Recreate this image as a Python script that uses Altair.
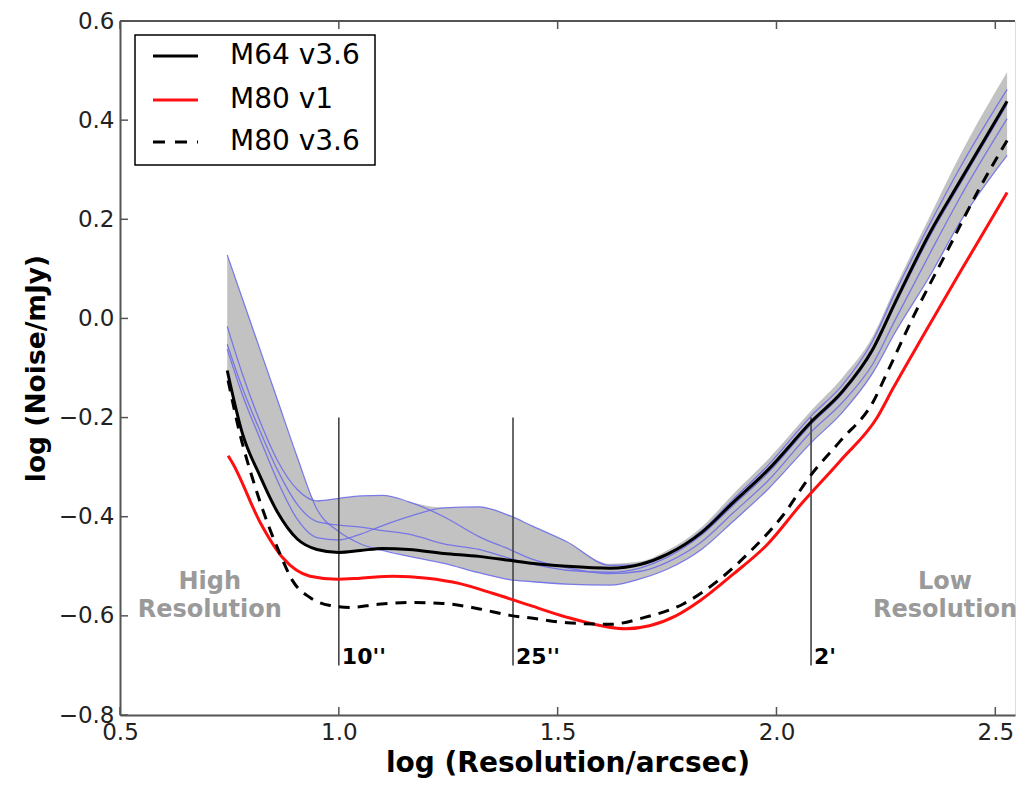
import altair as alt
import pandas as pd

# ---------------- data ----------------
X_TICKS = [0.5, 1.0, 1.5, 2.0, 2.5]
Y_TICKS = [-0.8, -0.6, -0.4, -0.2, 0.0, 0.2, 0.4, 0.6]

SERIES = ["M64 v3.6", "M80 v1", "M80 v3.6"]

# common grid for the spread runs and the band
X_GRID = [0.745, 0.78, 0.82, 0.86, 0.905, 0.95, 1.0, 1.05, 1.10, 1.16, 1.24, 1.32, 1.39, 1.44,
          1.52, 1.62, 1.69, 1.75, 1.83, 1.90, 1.98, 2.08, 2.15, 2.22, 2.27, 2.35, 2.42, 2.527]

M64_V36 = [-0.105, -0.233, -0.318, -0.391, -0.445, -0.466, -0.472, -0.468, -0.464, -0.466, -0.474,
           -0.480, -0.488, -0.494, -0.500, -0.504, -0.496, -0.476, -0.431, -0.372, -0.306, -0.208,
           -0.148, -0.062, 0.030, 0.172, 0.278, 0.438]

BLUE_1 = [0.128, 0.039, -0.063, -0.165, -0.28, -0.385, -0.43, -0.455, -0.468, -0.480, -0.494, -0.513,
          -0.527, -0.531, -0.536, -0.538, -0.525, -0.506, -0.465, -0.41, -0.345, -0.25, -0.19, -0.11,
          -0.03, 0.085, 0.195, 0.329]
BLUE_2 = [-0.016, -0.113, -0.208, -0.287, -0.345, -0.368, -0.363, -0.358, -0.357, -0.370, -0.400,
          -0.440, -0.466, -0.485, -0.503, -0.515, -0.510, -0.492, -0.450, -0.393, -0.328, -0.228,
          -0.17, -0.092, -0.005, 0.13, 0.245, 0.403]
BLUE_3 = [-0.052, -0.141, -0.227, -0.306, -0.375, -0.41, -0.417, -0.421, -0.428, -0.435, -0.455,
          -0.466, -0.484, -0.495, -0.508, -0.512, -0.503, -0.482, -0.436, -0.378, -0.312, -0.213,
          -0.152, -0.066, 0.025, 0.165, 0.272, 0.432]
BLUE_4 = [-0.062, -0.155, -0.243, -0.328, -0.405, -0.442, -0.447, -0.435, -0.418, -0.400, -0.382,
          -0.380, -0.398, -0.418, -0.45, -0.498, -0.497, -0.476, -0.428, -0.366, -0.297, -0.196,
          -0.135, -0.045, 0.05, 0.19, 0.305, 0.462]

BAND_UPPER = [0.128, 0.039, -0.063, -0.165, -0.28, -0.368, -0.363, -0.358, -0.357, -0.370, -0.382,
              -0.380, -0.398, -0.418, -0.45, -0.495, -0.49, -0.468, -0.42, -0.355, -0.285, -0.185,
              -0.12, -0.036, 0.06, 0.205, 0.33, 0.497]
BAND_LOWER = [-0.105, -0.233, -0.318, -0.391, -0.445, -0.466, -0.472, -0.468, -0.468, -0.480, -0.494,
              -0.513, -0.527, -0.531, -0.536, -0.538, -0.525, -0.506, -0.465, -0.41, -0.345, -0.25,
              -0.19, -0.11, -0.03, 0.085, 0.195, 0.329]

RED_X = [0.747, 0.758, 0.820, 0.873, 0.934, 0.996, 1.049, 1.124, 1.202, 1.277, 1.353, 1.437, 1.522,
         1.600, 1.655, 1.710, 1.770, 1.826, 1.901, 1.979, 2.054, 2.146, 2.230, 2.267, 2.335, 2.420, 2.527]
M80_V1 = [-0.277, -0.293, -0.411, -0.484, -0.520, -0.526, -0.524, -0.520, -0.524, -0.535, -0.555,
          -0.579, -0.603, -0.620, -0.626, -0.620, -0.600, -0.569, -0.516, -0.456, -0.377, -0.287,
          -0.200, -0.140, -0.035, 0.094, 0.254]

DASH_X = [0.747, 0.774, 0.804, 0.836, 0.866, 0.895, 0.934, 0.980, 1.026, 1.087, 1.163, 1.238, 1.316,
          1.391, 1.444, 1.522, 1.620, 1.695, 1.787, 1.865, 1.940, 2.015, 2.077, 2.146, 2.221, 2.253,
          2.313, 2.390, 2.466, 2.527]
M80_V36 = [-0.125, -0.233, -0.326, -0.41, -0.476, -0.530, -0.563, -0.579, -0.583, -0.577, -0.573,
           -0.575, -0.585, -0.599, -0.605, -0.614, -0.617, -0.604, -0.576, -0.530, -0.470, -0.397,
           -0.318, -0.247, -0.168, -0.109, 0.004, 0.136, 0.266, 0.359]

MARK_X = [1.0, 1.398, 2.079]
MARK_TOP = [-0.2, -0.2, -0.2]
MARK_BOTTOM = [-0.7, -0.7, -0.7]
MARK_LABELS = ["10''", "25''", "2'"]
MARK_LABEL_Y = [-0.684, -0.684, -0.684]

REGION_X = [0.705, 0.705, 2.385, 2.385]
REGION_Y = [-0.545, -0.603, -0.545, -0.603]
REGION_TEXT = ["High", "Resolution", "Low", "Resolution"]

# ---------------- layout ----------------
W, H = 895, 694
FONT = "DejaVu Sans"
FRAME = "#555555"

xs = alt.Scale(domain=[0.5, 2.545], nice=False, zero=False)
ys = alt.Scale(domain=[-0.8, 0.6], nice=False, zero=False)

AX = alt.Axis(
    values=X_TICKS, format=".1f", title="log (Resolution/arcsec)",
    titleFontSize=28, titleFontWeight="bold", titleColor="black", titleFont=FONT,
    labelFontSize=23, labelFont=FONT, labelColor="#222", labelPadding=6,
    titlePadding=5, ticks=False, tickSize=0, grid=False,
    domainColor=FRAME, domainWidth=2, labelFlush=False, labelOverlap=False)
AY = alt.Axis(
    values=Y_TICKS, format=".1f", title="log (Noise/mJy)",
    titleFontSize=26.5, titleFontWeight="bold", titleColor="black", titleFont=FONT,
    labelFontSize=23, labelFont=FONT, labelColor="#222", labelPadding=6,
    titlePadding=8, ticks=False, tickSize=0, grid=False,
    domainColor=FRAME, domainWidth=2, labelFlush=False, labelOverlap=False)


def X(field):
    return alt.X(field, scale=xs, axis=AX, title="log (Resolution/arcsec)")


def Y(field):
    return alt.Y(field, scale=ys, axis=AY, title="log (Noise/mJy)")


band_df = pd.DataFrame({"x": X_GRID, "lo": BAND_LOWER, "hi": BAND_UPPER})
band = alt.Chart(band_df).mark_area(color="#c2c2c2", interpolate="monotone").encode(
    x=X("x:Q"), y=Y("lo:Q"), y2="hi:Q",
)

runs = []
for i, vals in enumerate([BLUE_1, BLUE_2, BLUE_3, BLUE_4]):
    for xv, yv in zip(X_GRID, vals):
        runs.append({"x": xv, "y": yv, "run": f"r{i}"})
runs_df = pd.DataFrame(runs)
blue = alt.Chart(runs_df).mark_line(color="#6f6fe8", strokeWidth=1.3, opacity=0.9,
                                    interpolate="monotone").encode(
    x=X("x:Q"), y=Y("y:Q"), detail="run:N",
)

mk_df = pd.DataFrame({"x": MARK_X, "y": MARK_TOP, "y2": MARK_BOTTOM,
                      "label": MARK_LABELS, "ly": MARK_LABEL_Y})
vlines = alt.Chart(mk_df).mark_rule(color="#444444", strokeWidth=1.6).encode(
    x=X("x:Q"), y=Y("y:Q"), y2="y2:Q",
)
vlabels = alt.Chart(mk_df).mark_text(align="left", baseline="middle", dx=3, font=FONT,
                                     fontSize=22, fontWeight="bold", color="black").encode(
    x=X("x:Q"), y=Y("ly:Q"), text="label:N",
)

reg_df = pd.DataFrame({"x": REGION_X, "y": REGION_Y, "t": REGION_TEXT})
regions = alt.Chart(reg_df).mark_text(align="center", baseline="alphabetic", font=FONT,
                                      fontSize=24, fontWeight="bold", color="#9a9a9a").encode(
    x=X("x:Q"), y=Y("y:Q"), text="t:N",
)


def series_line(xv, yv, color, dash=None):
    df = pd.DataFrame({"x": xv, "y": yv})
    kw = dict(color=color, strokeWidth=3, interpolate="monotone")
    if dash:
        kw["strokeDash"] = dash
    return alt.Chart(df).mark_line(**kw).encode(x=X("x:Q"), y=Y("y:Q"))


black = series_line(X_GRID, M64_V36, "black")
red = series_line(RED_X, M80_V1, "#ff1010")
dashed = series_line(DASH_X, M80_V36, "black", [11, 8])

one = pd.DataFrame({"a": [0]})

# frame top line and inward ticks
top_line = alt.Chart(one).mark_rule(color=FRAME, strokeWidth=2).encode(
    x=alt.value(0), x2=alt.value(W), y=alt.value(0))
xt_df = pd.DataFrame({"x": X_TICKS})
yt_df = pd.DataFrame({"y": Y_TICKS})
ticks_bottom = alt.Chart(xt_df).mark_rule(color=FRAME, strokeWidth=1.5).encode(
    x=X("x:Q"), y=alt.value(H), y2=alt.value(H - 8))
ticks_top = alt.Chart(xt_df).mark_rule(color=FRAME, strokeWidth=1.5).encode(
    x=X("x:Q"), y=alt.value(0), y2=alt.value(8))
ticks_left = alt.Chart(yt_df).mark_rule(color=FRAME, strokeWidth=1.5).encode(
    y=Y("y:Q"), x=alt.value(0), x2=alt.value(8))

# legend (manual, matplotlib style box)
ROWS = [35, 79, 121]
legend_box = alt.Chart(one).mark_rect(fill="white", stroke="black", strokeWidth=1.5).encode(
    x=alt.value(15), x2=alt.value(255), y=alt.value(14), y2=alt.value(144))
legend_layers = [legend_box]
styles = [("black", None), ("#ff1010", None), ("black", [12, 10])]
for name, row, (col, dash) in zip(SERIES, ROWS, styles):
    kw = dict(color=col, strokeWidth=3)
    if dash:
        kw["strokeDash"] = dash
    legend_layers.append(alt.Chart(one).mark_rule(**kw).encode(
        x=alt.value(33), x2=alt.value(78), y=alt.value(row)))
    legend_layers.append(alt.Chart(one).mark_text(
        text=name, align="left", baseline="middle", font=FONT, fontSize=28, color="black").encode(
        x=alt.value(110), y=alt.value(row)))

chart = alt.layer(
    band, blue, vlines, black, red, dashed, vlabels, regions,
    top_line, ticks_bottom, ticks_top, ticks_left, *legend_layers
).properties(
    width=W, height=H,
    padding={"left": 112, "top": 13, "right": 4, "bottom": 64},
    autosize=alt.AutoSizeParams(type="none"),
).configure_view(stroke=None).configure(font=FONT)

chart.save("out.html", embed_options={"renderer": "svg", "actions": False})
